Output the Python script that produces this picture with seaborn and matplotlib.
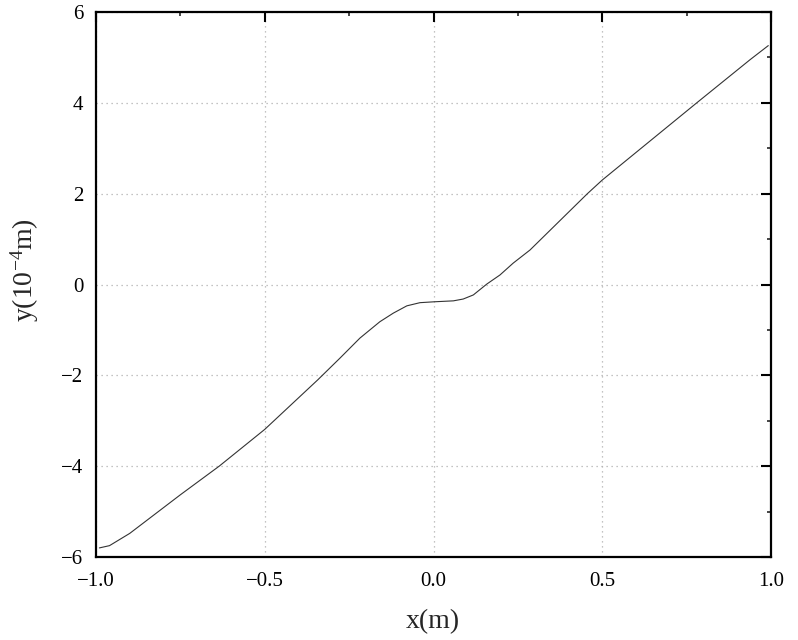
import numpy as np
import pandas as pd
import matplotlib
matplotlib.use("Agg")
import matplotlib.pyplot as plt
import seaborn as sns
from matplotlib.ticker import MultipleLocator, FuncFormatter

x_vals = [-0.99, -0.96, -0.90, -0.75, -0.635, -0.50, -0.343, -0.277, -0.218, -0.159,
          -0.119, -0.079, -0.040, 0.004, 0.059, 0.088, 0.118, 0.158, 0.197, 0.236,
          0.286, 0.456, 0.50, 0.78, 0.938, 0.992]
y_vals = [-5.80, -5.75, -5.48, -4.63, -4.00, -3.19, -2.10, -1.62, -1.18, -0.82,
          -0.63, -0.47, -0.40, -0.38, -0.36, -0.32, -0.23, 0.01, 0.21, 0.47,
          0.76, 2.0, 2.3, 4.0, 4.95, 5.26]
x_ticks = [-1.0, -0.5, 0.0, 0.5, 1.0]
y_ticks = [-6, -4, -2, 0, 2, 4, 6]

df = pd.DataFrame({"x": x_vals, "y": y_vals})

sns.set_style("white")
plt.rcParams['font.family'] = ['Liberation Serif', 'DejaVu Serif']
plt.rcParams['mathtext.fontset'] = 'custom'
plt.rcParams['mathtext.rm'] = 'Liberation Serif'
plt.rcParams['mathtext.it'] = 'Liberation Serif:italic'
plt.rcParams['axes.unicode_minus'] = True

fig = plt.figure(figsize=(7.98, 6.4), dpi=100)
ax = fig.add_axes([96/798, 1-557/640, (771-96)/798, (557-12)/640])

sns.lineplot(data=df, x="x", y="y", ax=ax, sort=False, color="#333333", linewidth=0.8)

ax.set_xlim(-1.0, 1.0)
ax.set_ylim(-6, 6)
ax.set_xticks(x_ticks)
ax.set_yticks(y_ticks)
ax.xaxis.set_minor_locator(MultipleLocator(0.25))
ax.yaxis.set_minor_locator(MultipleLocator(1))
ax.xaxis.set_major_formatter(FuncFormatter(lambda v, p: ("%.1f" % v).replace("-", "\u2212")))
ax.yaxis.set_major_formatter(FuncFormatter(lambda v, p: ("%d" % round(v)).replace("-", "\u2212")))

ax.grid(True, which="major", linestyle=(0, (1, 3)), color="#b0b0b0", linewidth=0.9)
ax.tick_params(which="major", direction="in", length=7, width=1.5, top=True, right=True,
               labelsize=15, colors="black")
ax.tick_params(axis="x", which="major", pad=11)
ax.tick_params(axis="y", which="major", pad=9)
ax.tick_params(which="minor", direction="in", length=3, width=1.2, top=True, right=True)
for s in ax.spines.values():
    s.set_linewidth(1.6)
    s.set_color("black")

ax.set_xlabel("x(m)", fontsize=20)
ax.set_ylabel(r"y(10$^{\mathrm{-4}}$m)", fontsize=20)
ax.xaxis.set_label_coords((433-96)/675, (557-622)/545)
ax.xaxis.label.set_va("center")
ax.yaxis.set_label_coords((25-96)/675, (557-270)/545)
ax.yaxis.label.set_va("center")

fig.savefig("out.png", dpi=100)
